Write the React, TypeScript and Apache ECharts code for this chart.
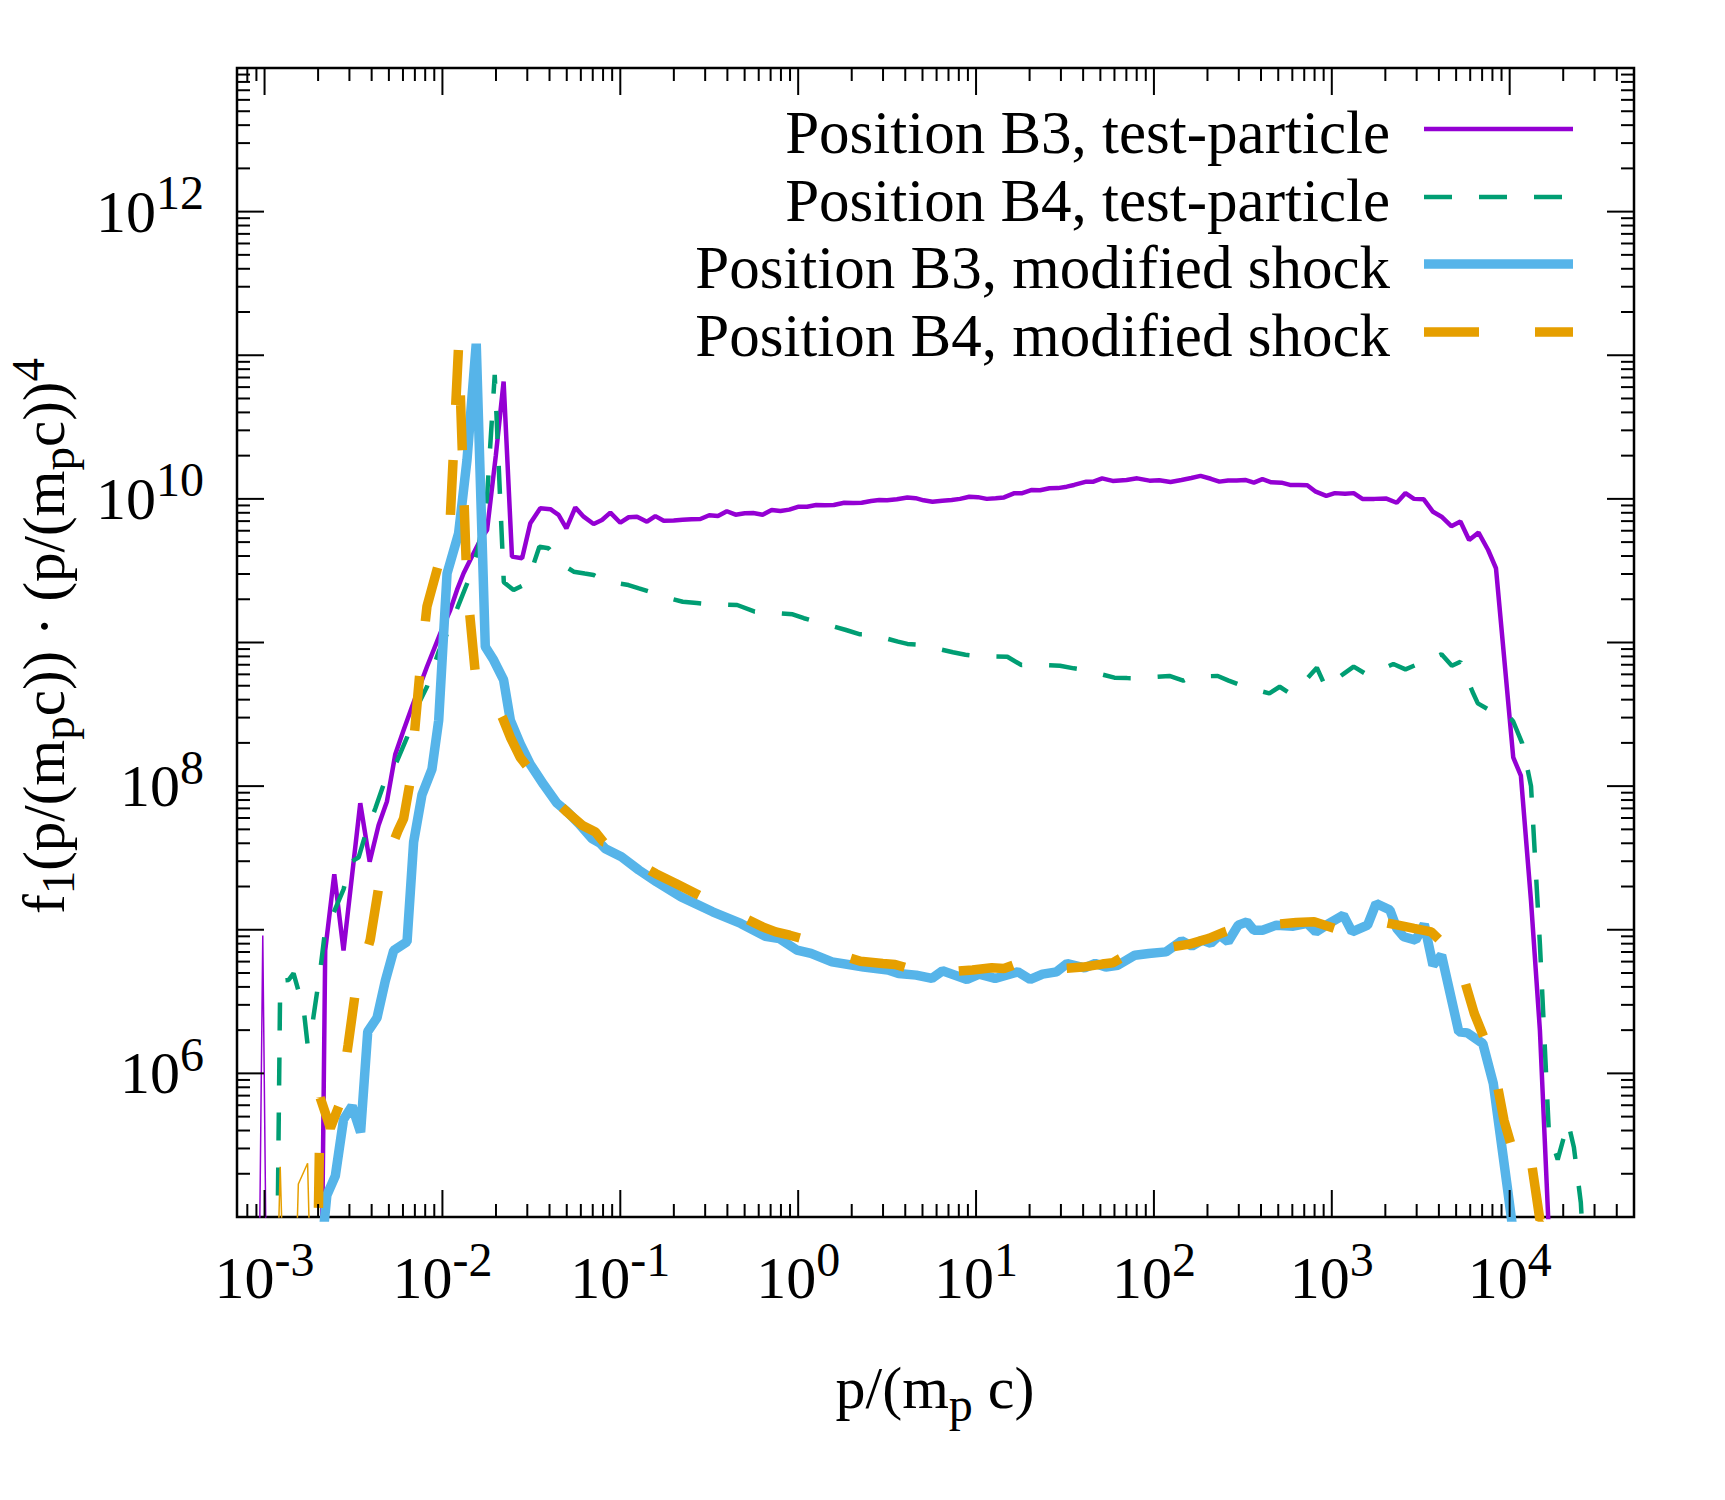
import React, { useEffect, useRef } from "react";
import * as echarts from "echarts";

const FONT = "Liberation Serif";

// axis ranges, as log10 values: p/(m_p c) from 7e-4 to 5e4, f from 1e5 to 1e13
const xMinLog = Math.log10(7e-4);
const xMaxLog = Math.log10(5e4);
const yMinLog = 5;
const yMaxLog = 13;

const xLabelExponents = [-3, -2, -1, 0, 1, 2, 3, 4];
const yLabelExponents = [6, 8, 10, 12];

const legendNames = [
  "Position B3, test-particle",
  "Position B4, test-particle",
  "Position B3, modified shock",
  "Position B4, modified shock",
];

// every point: [log10 p/(m_p c), log10 f]
const b3TestSpike: [number, number][] = [
  [-3.11, 1], [-3.06, 1], [-3.01, 6.96], [-2.96, 1], [-2.91, 1],
];

const b3Test: [number, number][] = [
  [-2.71, 1], [-2.659, 6.856], [-2.608, 7.387], [-2.556, 6.856], [-2.462, 7.881], [-2.409, 7.474],
  [-2.359, 7.728], [-2.312, 7.893], [-2.265, 8.222], [-2.219, 8.388], [-2.171, 8.552], [-2.087, 8.831],
  [-2.012, 9.064], [-1.956, 9.226], [-1.918, 9.366], [-1.881, 9.482], [-1.825, 9.621], [-1.787, 9.714],
  [-1.749, 9.784], [-1.70, 10.3], [-1.656, 10.817], [-1.609, 9.598], [-1.552, 9.586], [-1.506, 9.83],
  [-1.45, 9.935], [-1.393, 9.928], [-1.347, 9.888], [-1.303, 9.795], [-1.253, 9.94], [-1.206, 9.876],
  [-1.15, 9.825], [-1.103, 9.853], [-1.056, 9.904], [-1.0, 9.834], [-0.953, 9.872], [-0.906, 9.876],
  [-0.85, 9.841], [-0.803, 9.88], [-0.756, 9.848], [-0.70, 9.85], [-0.65, 9.855], [-0.60, 9.858],
  [-0.55, 9.86], [-0.50, 9.886], [-0.451, 9.881], [-0.401, 9.914], [-0.352, 9.89], [-0.30, 9.9],
  [-0.253, 9.901], [-0.20, 9.89], [-0.149, 9.923], [-0.10, 9.915], [-0.05, 9.925], [0.003, 9.946],
  [0.05, 9.945], [0.101, 9.957], [0.15, 9.955], [0.20, 9.957], [0.259, 9.973], [0.31, 9.972],
  [0.357, 9.973], [0.41, 9.985], [0.456, 9.992], [0.50, 9.99], [0.555, 9.997], [0.614, 10.01],
  [0.66, 10.005], [0.705, 9.99], [0.755, 9.98], [0.81, 9.987], [0.863, 9.992], [0.91, 10.0],
  [0.962, 10.015], [1.01, 10.012], [1.06, 10.0], [1.11, 10.005], [1.157, 10.01], [1.216, 10.04],
  [1.26, 10.04], [1.314, 10.062], [1.36, 10.06], [1.413, 10.074], [1.46, 10.075], [1.51, 10.085],
  [1.551, 10.097], [1.62, 10.12], [1.66, 10.12], [1.709, 10.143], [1.768, 10.125], [1.846, 10.132],
  [1.906, 10.143], [1.975, 10.127], [2.03, 10.13], [2.093, 10.118], [2.155, 10.132], [2.21, 10.145],
  [2.262, 10.16], [2.32, 10.14], [2.368, 10.12], [2.417, 10.128], [2.465, 10.128], [2.513, 10.132],
  [2.562, 10.113], [2.61, 10.137], [2.66, 10.115], [2.717, 10.113], [2.765, 10.097], [2.815, 10.096],
  [2.862, 10.095], [2.91, 10.05], [2.969, 10.021], [3.017, 10.04], [3.075, 10.035], [3.123, 10.04],
  [3.172, 10.0], [3.24, 10.0], [3.307, 10.002], [3.365, 9.973], [3.414, 10.04], [3.462, 10.0],
  [3.516, 9.998], [3.569, 9.91], [3.617, 9.876], [3.672, 9.81], [3.723, 9.842], [3.772, 9.714],
  [3.825, 9.765], [3.879, 9.644], [3.923, 9.517], [3.97, 8.88], [4.02, 8.2], [4.063, 8.073],
  [4.12, 7.2], [4.17, 6.3], [4.22, 4.9], [4.27, 3],
];

const b4Test: [number, number][] = [
  [-3.01, 1], [-2.96, 1], [-2.912, 6.645], [-2.865, 6.65], [-2.837, 6.696], [-2.78, 6.445],
  [-2.758, 6.2], [-2.733, 6.327], [-2.687, 6.715], [-2.664, 6.95], [-2.621, 7.092], [-2.556, 7.281],
  [-2.518, 7.469], [-2.471, 7.504], [-2.434, 7.658], [-2.377, 7.846], [-2.331, 8.011], [-2.255, 8.175],
  [-2.199, 8.34], [-2.152, 8.529], [-2.087, 8.692], [-2.021, 8.936], [-1.96, 9.1], [-1.909, 9.262],
  [-1.853, 9.436], [-1.80, 9.65], [-1.75, 10.0], [-1.706, 10.864], [-1.655, 9.42], [-1.60, 9.366],
  [-1.543, 9.4], [-1.50, 9.5], [-1.455, 9.667], [-1.403, 9.656], [-1.337, 9.552], [-1.262, 9.493],
  [-1.20, 9.48], [-1.15, 9.47], [-1.112, 9.445], [-1.05, 9.42], [-0.954, 9.4], [-0.895, 9.377],
  [-0.816, 9.347], [-0.73, 9.31], [-0.649, 9.284], [-0.57, 9.275], [-0.51, 9.268], [-0.43, 9.265],
  [-0.343, 9.261], [-0.244, 9.215], [-0.205, 9.215], [-0.12, 9.205], [-0.031, 9.196], [0.032, 9.169],
  [0.101, 9.145], [0.19, 9.115], [0.269, 9.087], [0.348, 9.057], [0.406, 9.057], [0.49, 9.03],
  [0.561, 9.006], [0.614, 8.99], [0.703, 8.983], [0.79, 8.955], [0.87, 8.932], [0.94, 8.915],
  [1.008, 8.906], [1.09, 8.903], [1.176, 8.901], [1.255, 8.843], [1.305, 8.848], [1.39, 8.843],
  [1.472, 8.838], [1.55, 8.82], [1.62, 8.808], [1.70, 8.78], [1.778, 8.755], [1.85, 8.752],
  [1.923, 8.751], [2.0, 8.76], [2.087, 8.767], [2.165, 8.734], [2.213, 8.762], [2.29, 8.765],
  [2.359, 8.767], [2.42, 8.735], [2.484, 8.704], [2.56, 8.675], [2.649, 8.646], [2.707, 8.692],
  [2.765, 8.646], [2.84, 8.72], [2.916, 8.824], [2.969, 8.681], [3.02, 8.74], [3.07, 8.785],
  [3.123, 8.832], [3.201, 8.774], [3.27, 8.81], [3.346, 8.85], [3.414, 8.813], [3.472, 8.843],
  [3.545, 8.88], [3.617, 8.918], [3.675, 8.838], [3.723, 8.866], [3.791, 8.657], [3.821, 8.576],
  [3.879, 8.534], [3.975, 8.518], [4.02, 8.45], [4.07, 8.3], [4.12, 8.0], [4.17, 6.9],
  [4.22, 5.6], [4.27, 5.4], [4.328, 5.66], [4.361, 5.486], [4.40, 5.1], [4.45, 4.0],
];

const b3Mod: [number, number][] = [
  [-2.75, 2], [-2.70, 4.5], [-2.65, 5.15], [-2.602, 5.287], [-2.556, 5.679], [-2.508, 5.773],
  [-2.46, 5.59], [-2.42, 6.29], [-2.368, 6.386], [-2.321, 6.645], [-2.274, 6.856], [-2.199, 6.916],
  [-2.162, 7.61], [-2.115, 7.94], [-2.059, 8.117], [-2.021, 8.458], [-1.974, 9.48], [-1.909, 9.76],
  [-1.862, 10.27], [-1.81, 11.08], [-1.759, 8.97], [-1.712, 8.878], [-1.656, 8.739], [-1.618, 8.458],
  [-1.562, 8.293], [-1.506, 8.152], [-1.431, 8.011], [-1.356, 7.881], [-1.299, 7.822], [-1.234, 7.74],
  [-1.159, 7.634], [-1.112, 7.601], [-1.084, 7.564], [-0.994, 7.508], [-0.895, 7.415], [-0.797, 7.334],
  [-0.658, 7.229], [-0.481, 7.125], [-0.323, 7.044], [-0.185, 6.955], [-0.106, 6.939], [-0.007, 6.858],
  [0.072, 6.835], [0.19, 6.776], [0.368, 6.741], [0.505, 6.719], [0.564, 6.695], [0.663, 6.684],
  [0.752, 6.661], [0.811, 6.714], [0.949, 6.654], [1.018, 6.691], [1.107, 6.661], [1.235, 6.707],
  [1.305, 6.654], [1.374, 6.691], [1.453, 6.707], [1.512, 6.765], [1.61, 6.735], [1.67, 6.765],
  [1.729, 6.741], [1.797, 6.753], [1.893, 6.823], [1.971, 6.835], [2.068, 6.846], [2.155, 6.923],
  [2.213, 6.886], [2.271, 6.928], [2.32, 6.905], [2.368, 6.963], [2.417, 6.916], [2.474, 7.032],
  [2.523, 7.055], [2.562, 6.997], [2.61, 6.997], [2.688, 7.032], [2.784, 7.025], [2.862, 7.044],
  [2.91, 6.985], [2.978, 7.039], [3.065, 7.102], [3.114, 6.985], [3.201, 7.032], [3.249, 7.183],
  [3.327, 7.137], [3.365, 7.009], [3.404, 6.951], [3.472, 6.928], [3.52, 7.039], [3.569, 6.753],
  [3.617, 6.823], [3.714, 6.289], [3.762, 6.282], [3.849, 6.208], [3.908, 5.929], [3.946, 5.581],
  [3.984, 5.232], [4.03, 4.8], [4.08, 4.0],
];

const b4ModThin: [number, number][] = [
  [-2.96, 3], [-2.912, 5.35], [-2.86, 3], [-2.81, 5.23], [-2.758, 5.374], [-2.71, 3],
];

const b4Mod: [number, number][] = [
  [-2.737, 2], [-2.687, 5.83], [-2.63, 5.62], [-2.58, 5.78], [-2.53, 6.2], [-2.49, 6.56],
  [-2.45, 6.75], [-2.406, 6.93], [-2.359, 7.29], [-2.31, 7.5], [-2.25, 7.69], [-2.218, 7.775],
  [-2.181, 8.035], [-2.152, 8.44], [-2.124, 8.83], [-2.087, 9.25], [-2.012, 9.59], [-1.96, 9.76],
  [-1.909, 11.07], [-1.862, 9.4], [-1.815, 8.785], [-1.76, 8.72], [-1.71, 8.6], [-1.66, 8.47],
  [-1.618, 8.34], [-1.562, 8.199], [-1.50, 8.1], [-1.45, 8.011], [-1.40, 7.95], [-1.35, 7.88],
  [-1.30, 7.82], [-1.215, 7.728], [-1.14, 7.681], [-1.094, 7.61], [-1.053, 7.601], [-0.974, 7.543],
  [-0.90, 7.46], [-0.80, 7.39], [-0.688, 7.322], [-0.54, 7.229], [-0.421, 7.171], [-0.30, 7.08],
  [-0.20, 7.02], [-0.126, 6.985], [-0.047, 6.962], [0.052, 6.928], [0.151, 6.87], [0.25, 6.82],
  [0.35, 6.78], [0.476, 6.765], [0.545, 6.758], [0.624, 6.73], [0.683, 6.748], [0.772, 6.73],
  [0.88, 6.71], [0.98, 6.72], [1.088, 6.735], [1.157, 6.73], [1.235, 6.765], [1.285, 6.758],
  [1.383, 6.719], [1.48, 6.73], [1.60, 6.74], [1.709, 6.761], [1.768, 6.77], [1.827, 6.811],
  [1.893, 6.835], [1.991, 6.858], [2.10, 6.88], [2.20, 6.9], [2.31, 6.94], [2.397, 6.985],
  [2.513, 7.032], [2.60, 7.048], [2.70, 7.04], [2.80, 7.05], [2.901, 7.055], [3.017, 7.009],
  [3.114, 6.997], [3.201, 7.044], [3.30, 7.05], [3.38, 7.03], [3.462, 7.009], [3.559, 6.985],
  [3.617, 6.916], [3.675, 6.87], [3.704, 6.823], [3.801, 6.417], [3.869, 6.208], [3.908, 6.069],
  [3.968, 5.674], [4.006, 5.511], [4.072, 5.592], [4.118, 5.418], [4.17, 4.98], [4.22, 5.02],
  [4.27, 3],
];

const PURPLE = "#9400D3";
const GREEN = "#009E73";
const BLUE = "#56B4E9";
const ORANGE = "#E69F00";

function buildTicks(lo: number, hi: number, other: number, horizontal: boolean) {
  const out: number[][] = [];
  for (let n = Math.floor(lo) - 1; n <= Math.ceil(hi); n++) {
    for (let k = 1; k <= 9; k++) {
      const v = n + Math.log10(k);
      if (v > lo + 1e-6 && v < hi - 1e-6) {
        const len = k === 1 ? 27 : 13;
        out.push(horizontal ? [v, other, len] : [other, v, len]);
      }
    }
  }
  return out;
}

const labelRich = {
  b: { fontSize: 60, lineHeight: 60, fontFamily: FONT, color: "#000", verticalAlign: "middle" },
  s: { fontSize: 48, lineHeight: 48, fontFamily: FONT, color: "#000", verticalAlign: "middle", padding: [0, 0, 38, 0] },
};

const yTitleRich = {
  m: { fontSize: 59, lineHeight: 59, fontFamily: FONT, fill: "#000", verticalAlign: "middle" },
  sub: { fontSize: 47, lineHeight: 47, fontFamily: FONT, fill: "#000", verticalAlign: "middle", padding: [28, 0, 0, 0] },
  sup: { fontSize: 47, lineHeight: 47, fontFamily: FONT, fill: "#000", verticalAlign: "middle", padding: [0, 0, 32, 0] },
};

const xTitleRich = {
  m: { fontSize: 60, lineHeight: 60, fontFamily: FONT, fill: "#000", verticalAlign: "middle" },
  sub: { fontSize: 48, lineHeight: 48, fontFamily: FONT, fill: "#000", verticalAlign: "middle", padding: [32, 0, 0, 0] },
};

function isInt(v: number) {
  return Math.abs(v - Math.round(v)) < 1e-6;
}

export default function App() {
  const ref = useRef<HTMLDivElement>(null);

  useEffect(() => {
    if (!ref.current) return;
    const chart = echarts.init(ref.current, undefined, { renderer: "svg", width: 1725, height: 1500 });

    const legendX1 = 1424;
    const legendX2 = 1573;
    const legendTextX = 1390;
    const legendRowsY = [129, 197, 264, 332];
    const legendStyles = [
      { color: PURPLE, width: 4.5, dash: null as number[] | null },
      { color: GREEN, width: 4.5, dash: [28, 27] },
      { color: BLUE, width: 9.5, dash: null },
      { color: ORANGE, width: 9.5, dash: [55, 56] },
    ];

    const legendGraphics: any[] = [];
    legendNames.forEach((name, i) => {
      legendGraphics.push({
        type: "text",
        x: legendTextX,
        y: legendRowsY[i] + 3,
        style: { text: name, font: `61px "${FONT}"`, fill: "#000", align: "right", verticalAlign: "middle" },
      });
      const st = legendStyles[i];
      legendGraphics.push({
        type: "line",
        shape: { x1: legendX1, y1: legendRowsY[i], x2: legendX2, y2: legendRowsY[i] },
        style: { stroke: st.color, lineWidth: st.width, lineDash: st.dash || undefined, lineCap: "butt" },
      });
    });

    const tickRender = (horizontal: boolean) => (params: any, api: any) => {
      const cs = params.coordSys;
      const p = api.coord([api.value(0), api.value(1)]);
      const len = api.value(2);
      const style = { stroke: "#000", lineWidth: 2 };
      if (horizontal) {
        const x = p[0];
        return {
          type: "group",
          children: [
            { type: "line", shape: { x1: x, y1: cs.y + cs.height, x2: x, y2: cs.y + cs.height - len }, style },
            { type: "line", shape: { x1: x, y1: cs.y, x2: x, y2: cs.y + len }, style },
          ],
        };
      }
      const y = p[1];
      return {
        type: "group",
        children: [
          { type: "line", shape: { x1: cs.x, y1: y, x2: cs.x + len, y2: y }, style },
          { type: "line", shape: { x1: cs.x + cs.width, y1: y, x2: cs.x + cs.width - len, y2: y }, style },
        ],
      };
    };

    const lineSeries = (data: [number, number][], color: string, width: number, dash?: number[]) => ({
      type: "line",
      data,
      showSymbol: false,
      symbol: "none",
      clip: true,
      silent: true,
      lineStyle: { color, width, type: dash ? dash : "solid", cap: "butt", join: "bevel" },
      z: 2,
    });

    const option: any = {
      animation: false,
      backgroundColor: "#ffffff",
      grid: {
        left: 237,
        top: 68,
        width: 1397,
        height: 1149,
        show: true,
        borderColor: "#000",
        borderWidth: 2.5,
        backgroundColor: "transparent",
      },
      xAxis: {
        type: "value",
        min: xMinLog,
        max: xMaxLog,
        splitNumber: 8,
        minInterval: 1,
        maxInterval: 1,
        axisLine: { show: false },
        axisTick: { show: false },
        splitLine: { show: false },
        axisLabel: {
          interval: 0,
          margin: 31,
          showMinLabel: false,
          showMaxLabel: false,
          formatter: (v: number) => {
            if (!isInt(v)) return "";
            const n = Math.round(v);
            return xLabelExponents.includes(n) ? `{b|10}{s|${n}}` : "";
          },
          rich: labelRich,
        },
      },
      yAxis: {
        type: "value",
        min: yMinLog,
        max: yMaxLog,
        splitNumber: 8,
        minInterval: 1,
        maxInterval: 1,
        axisLine: { show: false },
        axisTick: { show: false },
        splitLine: { show: false },
        axisLabel: {
          interval: 0,
          margin: 33,
          formatter: (v: number) => {
            if (!isInt(v)) return "";
            const n = Math.round(v);
            return yLabelExponents.includes(n) ? `{b|10}{s|${n}}` : "";
          },
          rich: labelRich,
        },
      },
      graphic: [
        {
          type: "text",
          x: 935,
          y: 1388,
          style: {
            text: "{m|p/(m}{sub|p}{m| c)}",
            rich: xTitleRich,
            align: "center",
            verticalAlign: "middle",
            font: `60px "${FONT}"`,
          },
        },
        {
          type: "text",
          x: 44,
          y: 636,
          rotation: Math.PI / 2,
          style: {
            text: "{m|f}{sub|1}{m|(p/(m}{sub|p}{m|c)) · (p/(m}{sub|p}{m|c))}{sup|4}",
            rich: yTitleRich,
            align: "center",
            verticalAlign: "middle",
            font: `59px "${FONT}"`,
          },
        },
        ...legendGraphics,
      ],
      series: [
        lineSeries(b3TestSpike, PURPLE, 1.5),
        lineSeries(b3Test, PURPLE, 4.5),
        lineSeries(b4Test, GREEN, 4.5, [28, 27]),
        lineSeries(b3Mod, BLUE, 9.5),
        lineSeries(b4ModThin, ORANGE, 1.5),
        lineSeries(b4Mod, ORANGE, 9.5, [55, 55]),
        {
          type: "custom",
          data: buildTicks(xMinLog, xMaxLog, yMinLog, true),
          encode: { x: 0, y: 1 },
          renderItem: tickRender(true),
          silent: true,
          z: 5,
        },
        {
          type: "custom",
          data: buildTicks(yMinLog, yMaxLog, xMinLog, false),
          encode: { x: 0, y: 1 },
          renderItem: tickRender(false),
          silent: true,
          z: 5,
        },
      ],
    };

    chart.setOption(option);
    return () => chart.dispose();
  }, []);

  return (
    <div
      ref={ref}
      style={{ position: "absolute", left: 0, top: 0, width: 1725, height: 1500, background: "#fff" }}
    />
  );
}
